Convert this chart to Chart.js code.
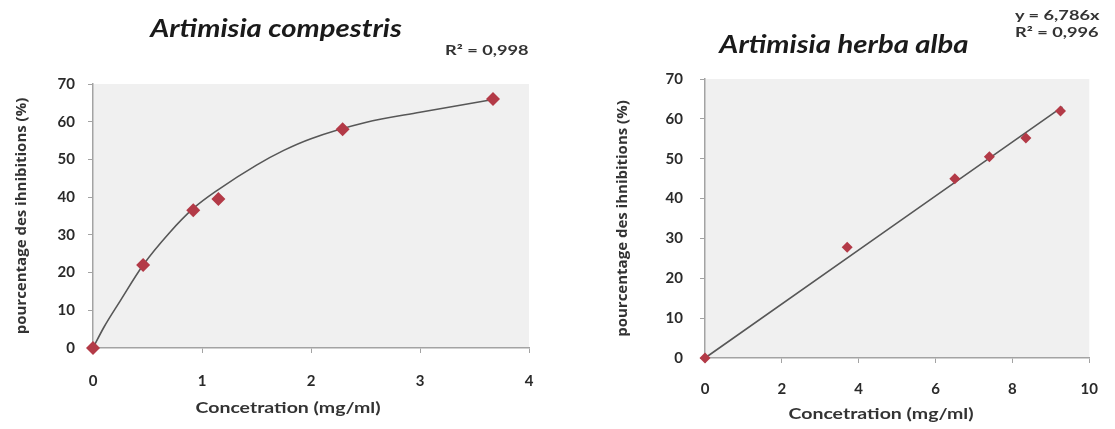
<!DOCTYPE html>
<html>
<head>
<meta charset="utf-8">
<script src="https://cdn.jsdelivr.net/npm/chart.js@4.4.1/dist/chart.umd.min.js"></script>
<style>
  html, body { margin: 0; padding: 0; background: #fff; }
  #wrap { position: relative; width: 1115px; height: 429px; overflow: hidden; font-family: Lato, "Open Sans", sans-serif; }
  .box { position: absolute; top: 0; height: 429px; }
  .title { position: absolute; font-weight: bold; font-style: italic; font-size: 24px; color: #1a1a1a; white-space: nowrap; transform: translate(-50%, -50%) scaleX(1.22); }
  .note { position: absolute; font-weight: bold; font-size: 14px; color: #333; white-space: nowrap; line-height: 17px; transform-origin: 0 0; transform: scaleX(1.3); }
  .xtitle { position: absolute; font-weight: bold; font-size: 15px; color: #333; white-space: nowrap; transform: translate(-50%, -50%) scaleX(1.3); }
</style>
</head>
<body>
<div id="wrap">
  <div class="box" style="left:0;width:560px"><canvas id="chartLeft"></canvas></div>
  <div class="box" style="left:560px;width:555px"><canvas id="chartRight"></canvas></div>
  <div class="title" style="left:276px;top:27px">Artimisia compestris</div>
  <div class="title" style="left:844px;top:43px">Artimisia herba alba</div>
  <div class="note" style="left:445px;top:41px">R² = 0,998</div>
  <div class="note" style="left:1015px;top:6px">y = 6,786x<br>R² = 0,996</div>
  <div class="xtitle" style="left:288px;top:407px">Concetration (mg/ml)</div>
  <div class="xtitle" style="left:881px;top:413px">Concetration (mg/ml)</div>
</div>
<script>
// Artimisia compestris - measured points
const compX = [0, 0.46, 0.92, 1.15, 2.29, 3.67];
const compY = [0, 22, 36.5, 39.5, 58, 66];
// trend curve
const compTrendX = [0, 0.1, 0.25, 0.46, 0.7, 0.92, 1.15, 1.5, 1.75, 2, 2.5, 3, 3.67];
const compTrendY = [0, 5.5, 12.5, 22, 30.5, 37, 42, 48.5, 52.4, 55.5, 59.8, 62.5, 65.9];

// Artimisia herba alba - measured points
const herbaX = [0, 3.7, 6.5, 7.4, 8.35, 9.25];
const herbaY = [0, 27.8, 45, 50.5, 55.2, 62];
// linear trend line ends
const herbaTrendX = [0, 9.3];
const herbaTrendY = [0, 63];

const yTicks = [0, 10, 20, 30, 40, 50, 60, 70];
const xTicksLeft = [0, 1, 2, 3, 4];
const xTicksRight = [0, 2, 4, 6, 8, 10];

const yTitle = 'pourcentage des ihnibitions (%)';

const markerColor = '#b33a47';
const axisColor = '#a3a3a3';
const fontFamily = 'Lato, "Open Sans", sans-serif';
const titleFamily = '"Open Sans", Lato, sans-serif';

function toPoints(xs, ys) {
    return xs.map((x, i) => ({ x: x, y: ys[i] }));
}

// gray plot area like excel
const plotBg = {
    id: 'plotBg',
    beforeDraw(chart) {
        const a = chart.chartArea;
        chart.ctx.save();
        chart.ctx.fillStyle = '#f0f0f0';
        chart.ctx.fillRect(a.left, a.top, a.right - a.left, a.bottom - a.top);
        chart.ctx.restore();
    }
};

function makeChart(id, cfg) {
    return new Chart(document.getElementById(id), {
        type: 'scatter',
        data: {
            datasets: [
                {
                    data: toPoints(cfg.x, cfg.y),
                    pointStyle: 'rectRot',
                    pointRadius: cfg.marker,
                    backgroundColor: markerColor,
                    borderColor: markerColor,
                    borderWidth: 0,
                    clip: false
                },
                {
                    data: toPoints(cfg.tx, cfg.ty),
                    showLine: true,
                    pointRadius: 0,
                    borderColor: '#575757',
                    borderWidth: 1.6,
                    cubicInterpolationMode: 'monotone',
                    clip: false
                }
            ]
        },
        options: {
            responsive: true,
            maintainAspectRatio: false,
            animation: false,
            events: [],
            layout: { padding: { left: 0, top: cfg.top, right: cfg.right, bottom: 0 } },
            plugins: { legend: { display: false }, tooltip: { enabled: false } },
            scales: {
                x: {
                    type: 'linear',
                    min: 0,
                    max: cfg.xTicks[cfg.xTicks.length - 1],
                    afterBuildTicks: s => { s.ticks = cfg.xTicks.map(v => ({ value: v })); },
                    afterFit: s => { s.height = 429 - cfg.bottom; },
                    border: { display: true, color: axisColor, width: 1.5 },
                    grid: { drawOnChartArea: false, drawTicks: true, tickLength: 5, color: axisColor },
                    ticks: { color: '#2a2a2a', padding: cfg.xPad, font: { family: fontFamily, size: 15, weight: 'bold' } }
                },
                y: {
                    type: 'linear',
                    min: 0,
                    max: 70,
                    afterBuildTicks: s => { s.ticks = yTicks.map(v => ({ value: v })); },
                    afterFit: s => { s.width = cfg.left; },
                    border: { display: true, color: axisColor, width: 1.5 },
                    grid: { drawOnChartArea: false, drawTicks: true, tickLength: 5, color: axisColor },
                    ticks: { color: '#2a2a2a', padding: cfg.yPad, font: { family: fontFamily, size: 15, weight: 'bold' } },
                    title: { display: true, text: yTitle, color: '#333', padding: { top: cfg.yTitlePad, bottom: 0 }, font: { family: titleFamily, size: 15, weight: 'bold' } }
                }
            }
        },
        plugins: [plotBg]
    });
}

makeChart('chartLeft', {
    x: compX, y: compY, tx: compTrendX, ty: compTrendY, marker: 7,
    xTicks: xTicksLeft,
    left: 93, top: 84, right: 560 - 529, bottom: 348,
    xPad: 19, yPad: 13, yTitlePad: 13
});

makeChart('chartRight', {
    x: herbaX, y: herbaY, tx: herbaTrendX, ty: herbaTrendY, marker: 5.5,
    xTicks: xTicksRight,
    left: 145, top: 79, right: 555 - 539, bottom: 358,
    xPad: 17, yPad: 17, yTitlePad: 54
});
</script>
</body>
</html>
